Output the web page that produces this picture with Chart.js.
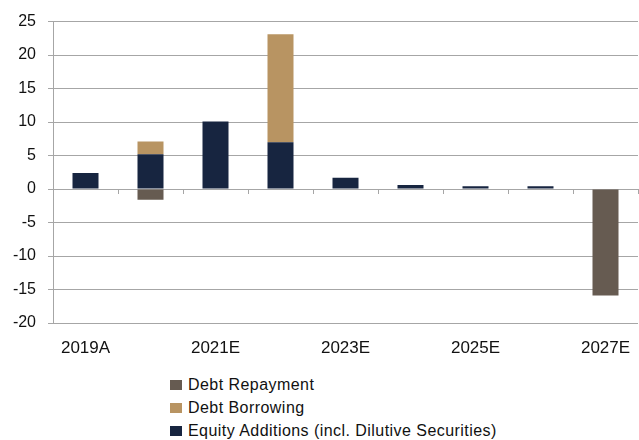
<!DOCTYPE html>
<html>
<head>
<meta charset="utf-8">
<script src="https://cdn.jsdelivr.net/npm/chart.js@4"></script>
<style>
  body { margin: 0; background: #fff; font-family: "Liberation Sans", sans-serif; }
  #wrap { position: relative; width: 639px; height: 360px; }
  #legend { position: absolute; left: 170px; top: 373px; font-size: 16px; letter-spacing: 0.45px; color: #111; }
  .item { height: 23px; line-height: 23px; display: flex; align-items: center; }
  .box { width: 12px; height: 10px; margin-right: 6px; }
</style>
</head>
<body>
<div id="wrap"><canvas id="chart"></canvas></div>
<div id="legend"></div>
<script>
// Kategori tahun
const categories = ['2019A', '2020E', '2021E', '2022E', '2023E', '2024E', '2025E', '2026E', '2027E'];

// Nilai tiap seri
const equityAdditions = [2.4, 5.2, 10.1, 7.0, 1.7, 0.6, 0.4, 0.4, 0];
const debtBorrowing = [0, 1.9, 0, 16.1, 0, 0, 0, 0, 0];
const debtRepayment = [0, -1.6, 0, 0, 0, 0, 0, 0, -15.9];

const colors = {
  equity: '#172540',
  borrowing: '#B89462',
  repayment: '#665B51',
};

const gridColor = '#a6a6a6';
const fontFamily = '"Liberation Sans", sans-serif';

const ctx = document.getElementById('chart').getContext('2d');
const chart = new Chart(ctx, {
  type: 'bar',
  data: {
    labels: categories,
    datasets: [
      { label: 'Equity Additions (incl. Dilutive Securities)', data: equityAdditions, backgroundColor: colors.equity },
      { label: 'Debt Borrowing', data: debtBorrowing, backgroundColor: colors.borrowing },
      { label: 'Debt Repayment', data: debtRepayment, backgroundColor: colors.repayment },
    ],
  },
  options: {
    responsive: true,
    maintainAspectRatio: false,
    animation: false,
    layout: { padding: { top: 2, right: 1, left: 0, bottom: 0 } },
    datasets: { bar: { categoryPercentage: 1, barPercentage: 0.4 } },
    plugins: {
      legend: { display: false },
      tooltip: { enabled: false },
    },
    scales: {
      x: {
        stacked: true,
        grid: { display: false },
        border: { display: false },
        ticks: {
          color: '#111',
          font: { family: fontFamily, size: 17 },
          padding: 7,
          autoSkip: false,
          maxRotation: 0,
          callback: (value, index) => (index % 2 === 0 ? categories[index] : ''),
        },
        afterFit: (scale) => { scale.height = 37; },
      },
      x2: {
        type: 'category',
        labels: categories,
        position: { y: 0 },
        grid: { drawOnChartArea: false, offset: true, tickLength: 5, color: gridColor },
        border: { display: false },
        ticks: { display: false },
      },
      y: {
        stacked: true,
        min: -20,
        max: 25,
        ticks: { stepSize: 5, color: '#111', font: { family: fontFamily, size: 16 }, padding: 12 },
        grid: { color: gridColor, lineWidth: 1, tickLength: 5 },
        border: { color: gridColor },
        afterFit: (scale) => { scale.width = 53; },
      },
    },
  },
});

// Legend manual, urutan dibalik seperti gambar
const legendEl = document.getElementById('legend');
chart.data.datasets.slice().reverse().forEach((ds) => {
  const row = document.createElement('div');
  row.className = 'item';
  row.innerHTML = `<span class="box" style="background:${ds.backgroundColor}"></span><span>${ds.label}</span>`;
  legendEl.appendChild(row);
});
</script>
</body>
</html>
